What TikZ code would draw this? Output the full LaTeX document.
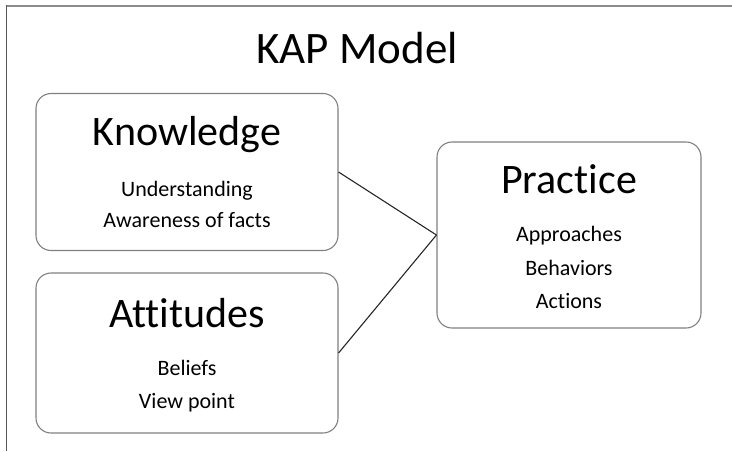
\documentclass[tikz,border=0pt]{standalone}
\usepackage{fontspec}
\setmainfont{Carlito}[Ligatures=NoCommon]
\usetikzlibrary{positioning}

\tikzset{
  kapbox/.style={draw=black!50, line width=1.1pt, rounded corners=15pt, inner sep=0pt},
  heading/.style={anchor=base, inner sep=0pt, font=\fontsize{42}{42}\selectfont},
  item/.style={anchor=base, inner sep=0pt, font=\fontsize{22}{22}\selectfont},
  link/.style={draw=black!85, line width=1.1pt},
}

\begin{document}
\begin{tikzpicture}[x=1pt, y=-1pt]
\useasboundingbox (0, 0) rectangle (732, 451);
% frame
\draw[black!45, line width=2pt] (732, 6) -- (6, 6);
\draw[black!65, line width=1pt] (6, 5) -- (6, 451);

\node[anchor=base, inner sep=0pt, font=\fontsize{45}{45}\selectfont] (title) at (357, 63) {KAP Model};

% boxes
\node[kapbox, minimum width=302pt, minimum height=157pt] (K) at (187, 172) {};
\node[kapbox, minimum width=302pt, minimum height=160pt] (A) at (187, 353) {};
\node[kapbox, minimum width=264pt, minimum height=186pt] (P) at (569, 235) {};

% knowledge
\node[heading] (Kh) at (187, 145) {Knowledge};
\node[item] (K1) at (187, 196) {Understanding};
\node[item] (K2) at (187, 227) {Awareness of facts};

% attitudes
\node[heading] (Ah) at (187, 327) {Attitudes};
\node[item] (A1) at (187, 375) {Beliefs};
\node[item] (A2) at (187, 408) {View point};

% practice
\node[heading] (Ph) at (569, 193) {Practice};
\node[item] (P1) at (569, 241) {Approaches};
\node[item] (P2) at (569, 275) {Behaviors};
\node[item] (P3) at (569, 308) {Actions};

\draw[link] (K.east) -- (P.west);
\draw[link] (A.east) -- (P.west);

\end{tikzpicture}
\end{document}
